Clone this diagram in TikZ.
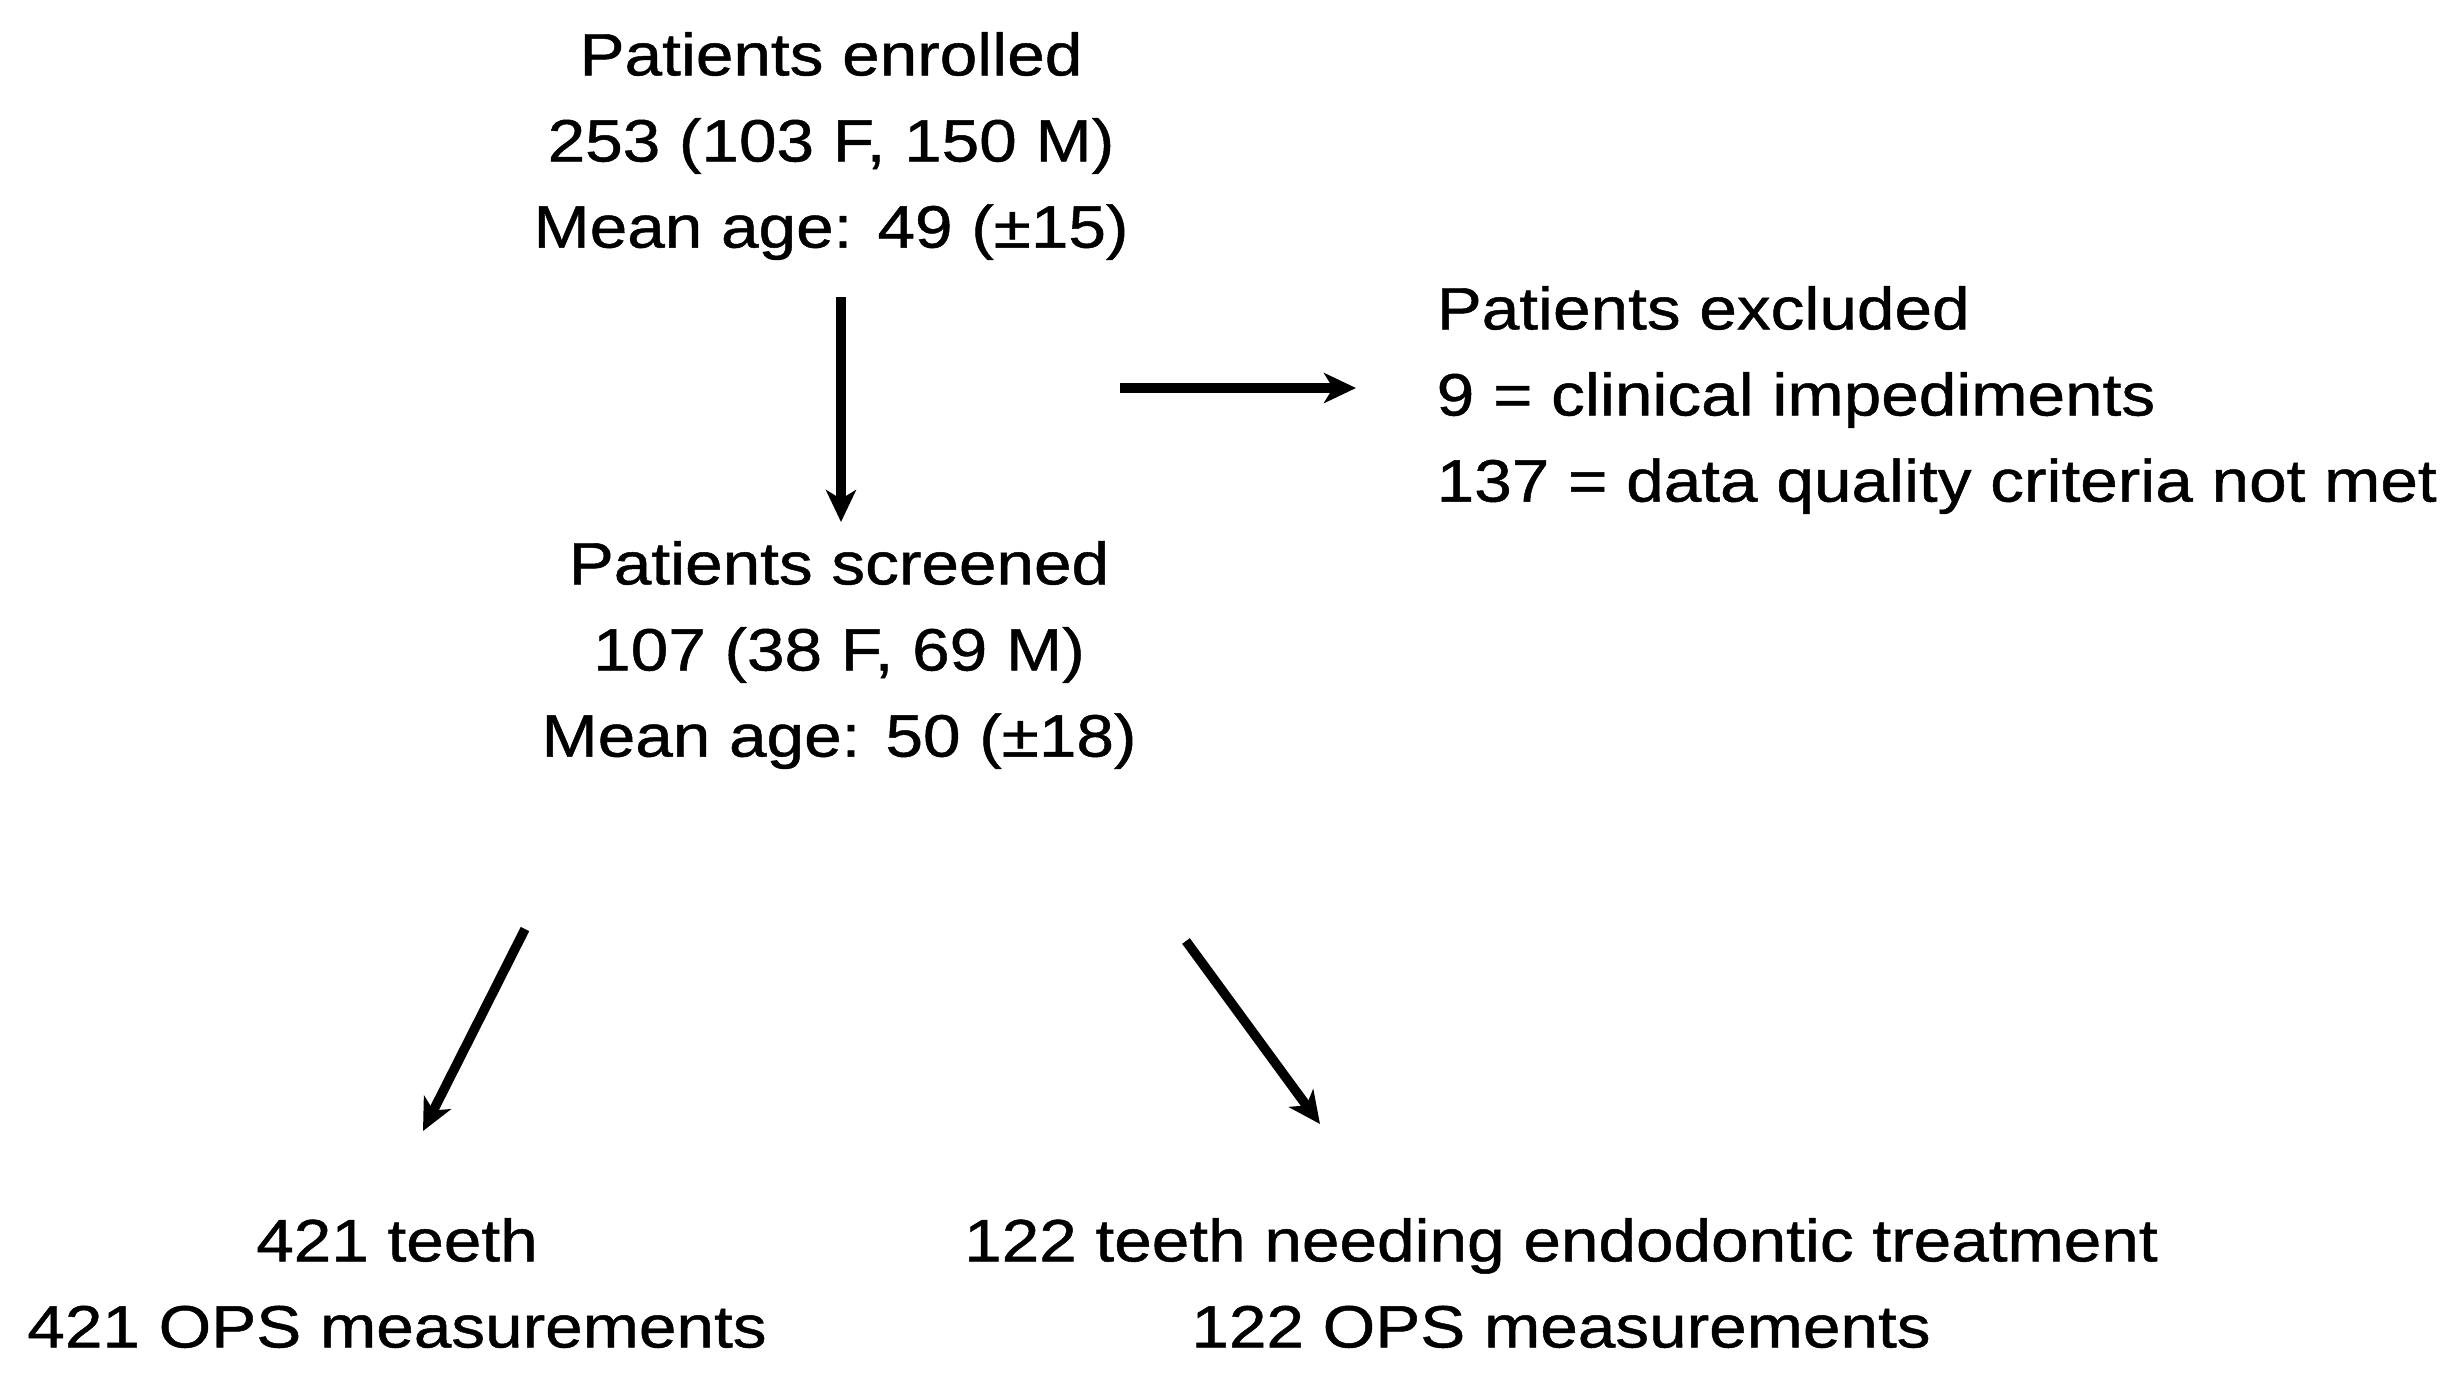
\documentclass[tikz,border=0pt]{standalone}
\usepackage{fontspec}
\setmainfont{Liberation Sans}[FakeStretch=1.13,FakeBold=0.8]
\usepackage{tikz}
\usetikzlibrary{arrows.meta,positioning,calc}

\tikzset{
  txt/.style={align=center,inner sep=0pt,font=\fontsize{17}{24.5}\selectfont},
  arr/.style={line width=2.7pt,-{Stealth[length=0.32cm,width=0.3cm,inset=0.09cm]}}
}

\begin{document}
\begin{tikzpicture}
	\useasboundingbox (0,0) rectangle (24.56,-13.87);
	\node[txt] (enrolled) at (8.31,-1.46) {Patients enrolled\\253 (103 F, 150 M)\\Mean age: 49 (\textpm15)};
	\node[txt] (screened) at (8.39,-6.55) {Patients screened\\107 (38 F, 69 M)\\Mean age: 50 (\textpm18)};
	\node[txt,align=left,anchor=west] (excluded) at (14.36,-4.0) {Patients excluded\\9 = clinical impediments\\137 = data quality criteria not met};
	\node[txt] (teeth) at (3.97,-12.83) {421 teeth\\421 OPS measurements};
	\node[txt] (endo) at (15.61,-12.83) {122 teeth needing endodontic treatment\\122 OPS measurements};
	\coordinate (v1) at (8.41,-2.97);
	\coordinate (v2) at (8.41,-5.22);
	\coordinate (h1) at (11.20,-3.88);
	\coordinate (h2) at (13.56,-3.88);
	\coordinate (l1) at (5.25,-9.29);
	\coordinate (l2) at (4.23,-11.31);
	\coordinate (r1) at (11.86,-9.41);
	\coordinate (r2) at (13.20,-11.24);
	\draw[arr] (v1) -- (v2);
	\draw[arr] (h1) -- (h2);
	\draw[arr] (l1) -- (l2);
	\draw[arr] (r1) -- (r2);
\end{tikzpicture}
\end{document}
